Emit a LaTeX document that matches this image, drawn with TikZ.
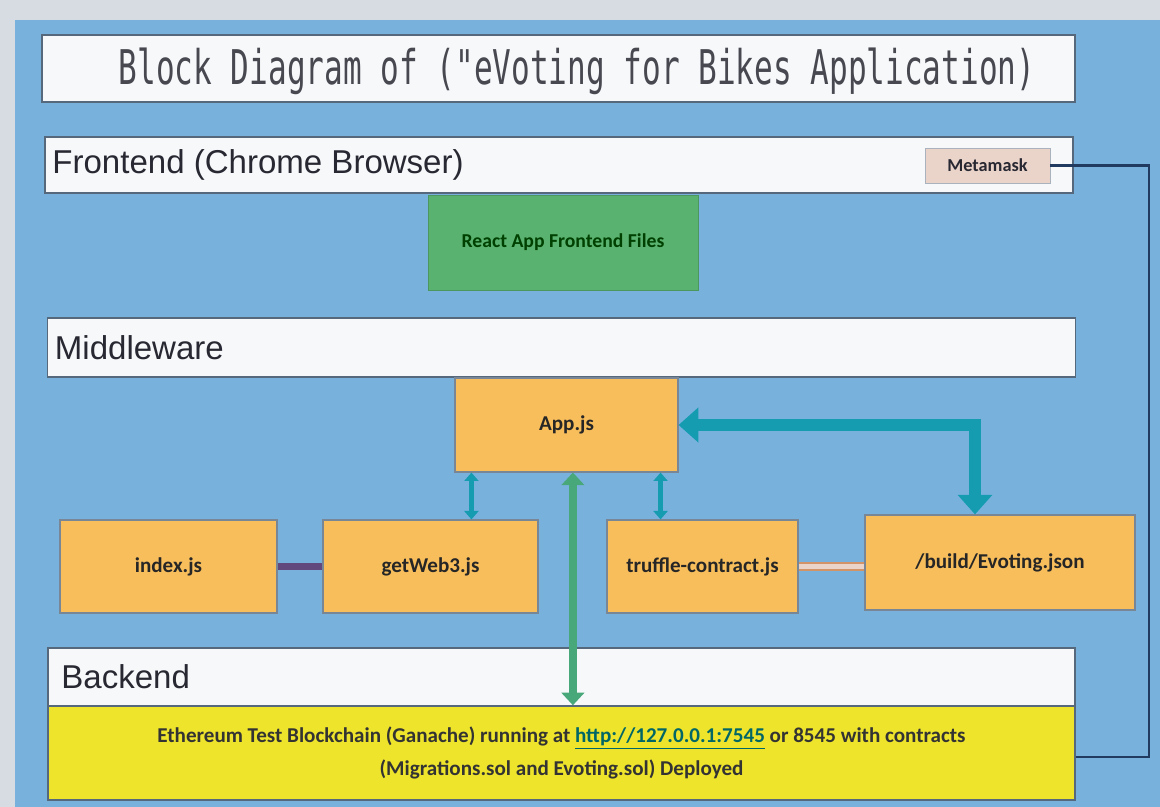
\documentclass[tikz,border=0pt]{standalone}
\usepackage{fontspec}
\setmainfont{Carlito}
\newfontfamily\barfont{Liberation Sans}
\newfontfamily\titlefont{DejaVu Sans Mono}
\usetikzlibrary{arrows.meta, positioning}
\definecolor{vpaper}{RGB}{214,220,226}
\definecolor{vblue}{RGB}{121,177,221}
\definecolor{vborder}{RGB}{86,104,124}
\definecolor{vwhite}{RGB}{246,248,250}
\definecolor{vtext}{RGB}{40,40,50}
\definecolor{vorange}{RGB}{248,190,92}
\definecolor{vgreen}{RGB}{90,178,112}
\definecolor{vyellow}{RGB}{238,228,44}
\definecolor{vteal}{RGB}{22,156,176}
\definecolor{vmint}{RGB}{72,168,122}
\definecolor{vnavy}{RGB}{32,58,96}
\definecolor{vpink}{RGB}{234,212,202}

\begin{document}
\begin{tikzpicture}[
    bar/.style={draw=vborder, line width=1.2pt, fill=vwhite, minimum width=25.7cm, minimum height=1.45cm},
    barlabel/.style={font=\barfont\fontsize{23.5}{27}\selectfont, text=vtext, inner sep=0pt},
    jsbox/.style={draw=vborder!80, line width=0.8pt, fill=vorange, minimum height=2.35cm, text=black!85, font=\bfseries\fontsize{15}{18}\selectfont},
    syncarrow/.style={draw=vteal, line width=3pt, {Triangle[length=6pt,width=10pt]}-{Triangle[length=6pt,width=10pt]}},
    bigarrow/.style={draw=vteal, line width=8pt, {Triangle[length=14pt,width=24pt]}-{Triangle[length=14pt,width=24pt]}},
    chainarrow/.style={draw=vmint, line width=6pt, {Triangle[length=9pt,width=16pt]}-{Triangle[length=9pt,width=16pt]}},
]
    \useasboundingbox (0,0) rectangle (29,20.175);
    % paper and board
    \fill[vpaper] (0,0) rectangle (29,20.175);
    \fill[vblue] (0.375,0) rectangle (29,19.675);

    % Title
    \node[draw=vborder, line width=2pt, fill=vwhite, minimum width=25.825cm, minimum height=1.675cm] (title) at (13.9625,18.4625) {};
    \node[font=\titlefont\fontsize{34}{38}\selectfont, text=vtext!85] (titletext) at (14.425,18.38) {\scalebox{0.65}[1]{Block Diagram of ("eVoting for Bikes Application)}};

    % Frontend
    \node[bar, minimum height=1.4cm] (front) at (13.975,16.05) {};
    \node[barlabel, right=0.2cm of front.west] (frontlbl) {Frontend (Chrome Browser)};
    \node[draw=vborder!50, fill=vpink, minimum width=3.125cm, minimum height=0.875cm, font=\bfseries\fontsize{13}{15}\selectfont, text=vtext] (meta) at (24.6875,16.0375) {Metamask};
    \node[fill=vgreen, draw=vgreen!85!black, minimum width=6.75cm, minimum height=2.375cm, text=green!25!black, font=\bfseries\fontsize{14}{17}\selectfont] (react) at (14.075,14.1125) {React App Frontend Files};

    % Middleware
    \node[bar, minimum height=1.475cm] (middle) at (14.0375,11.4875) {};
    \node[barlabel, right=0.2cm of middle.west] (middlelbl) {Middleware};
    \node[jsbox, minimum width=5.575cm] (app) at (14.1625,9.55) {App.js};
    \node[jsbox, minimum width=5.425cm, minimum height=2.325cm] (index) at (4.2125,6.0125) {index.js};
    \node[jsbox, minimum width=5.375cm, minimum height=2.325cm] (web3) at (10.7625,6.0125) {getWeb3.js};
    \node[jsbox, minimum width=4.775cm, minimum height=2.325cm] (truffle) at (17.5625,6.0125) {truffle-contract.js};
    \node[jsbox, minimum width=6.75cm, minimum height=2.375cm] (build) at (25,6.1125) {/build/Evoting.json};

    % Backend
    \node[bar, minimum width=25.675cm] (back) at (14.0375,3.25) {};
    \node[barlabel, right=0.35cm of back.west] (backlbl) {Backend};
    \node[draw=vborder, line width=1pt, fill=vyellow, minimum width=25.675cm, minimum height=2.35cm, align=center, text=black!80, font=\bfseries\fontsize{15}{23.5}\selectfont] (chain) at (14.0375,1.35)
        {Ethereum Test Blockchain (Ganache) running at \textcolor{teal!80!black}{\underline{http://127.0.0.1:7545}} or 8545 with contracts\\(Migrations.sol and Evoting.sol) Deployed};

    % links
    \draw[draw=vborder!70!violet, line width=5pt] (index.east) -- (web3.west);
    \draw[draw=brown!70!pink, double=vpink, double distance=3pt, line width=1.5pt] (truffle.east) -- (truffle.east -| build.west);
    \draw[syncarrow] ([xshift=0.425cm]app.south west) -- ([xshift=0.425cm]app.south west |- web3.north);
    \draw[syncarrow] ([xshift=-0.45cm]app.south east) -- ([xshift=-0.45cm]app.south east |- truffle.north);
    \draw[chainarrow] ([xshift=0.16cm]app.south) -- ([xshift=0.16cm]app.south |- chain.north);
    \draw[bigarrow] (app.east) -| ([xshift=-0.625cm]build.north);
    \draw[vnavy, line width=1.5pt] (meta.east) -| ([xshift=1.825cm,yshift=-0.1cm]chain.east) -- ([yshift=-0.1cm]chain.east);
\end{tikzpicture}
\end{document}
